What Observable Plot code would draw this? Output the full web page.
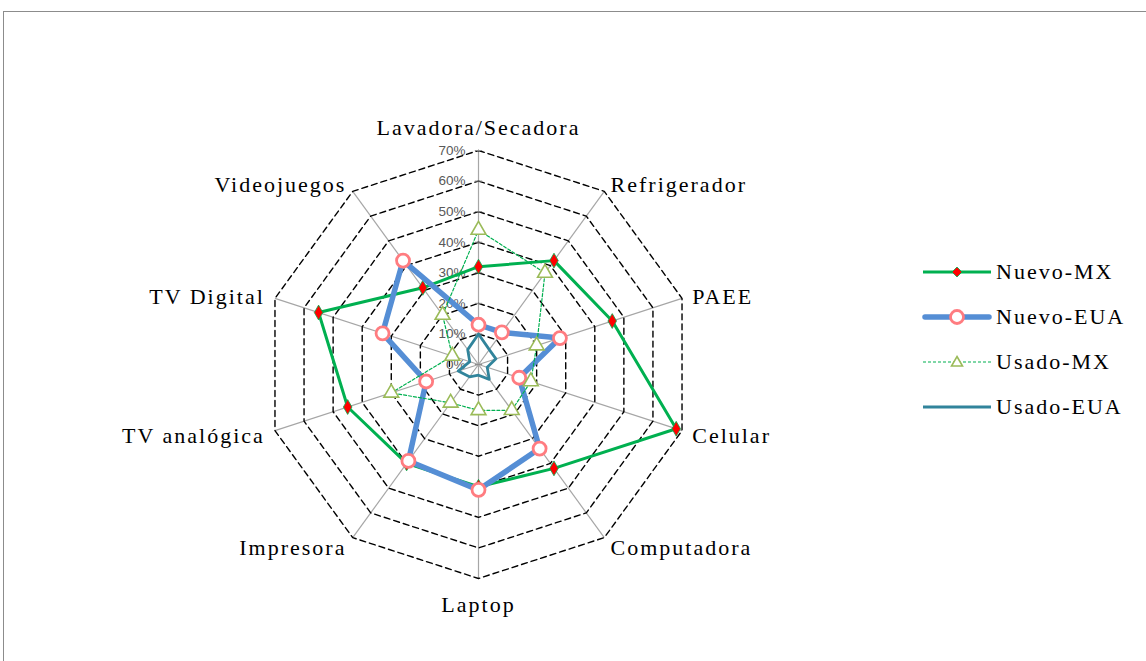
<!DOCTYPE html>
<html>
<head>
<meta charset="utf-8">
<script src="https://cdn.jsdelivr.net/npm/d3@7"></script>
<script src="https://cdn.jsdelivr.net/npm/@observablehq/plot@0.6"></script>
<style>
  html, body { margin: 0; padding: 0; background: #fff; overflow: hidden; }
  #wrap { position: relative; width: 1146px; height: 661px; }
  #frame { position: absolute; left: 3px; top: 11px; width: 1300px; height: 800px; border: 1.5px solid #8c8c8c; box-sizing: border-box; }
  #legend { position: absolute; left: 922px; top: 249px; font-family: "Liberation Serif", serif; font-size: 22px; letter-spacing: 2px; color: #000; }
  .item { display: flex; align-items: center; height: 45px; }
  .item svg { margin-right: 4px; }
</style>
</head>
<body>
<div id="wrap">
  <div id="frame"></div>
  <div id="chart"></div>
  <div id="legend"></div>
</div>
<script>
const categories = ["Lavadora/Secadora","Refrigerador","PAEE","Celular","Computadora","Laptop","Impresora","TV analógica","TV Digital","Videojuegos"];
const nuevoMX  = [32, 42, 46, 68, 42, 40, 40, 45, 55, 31];
const nuevoEUA = [13, 13, 28, 14, 34, 41, 39, 18, 33, 42];
const usadoMX  = [44, 37, 20, 18, 18.5, 15, 15.5, 30, 9, 20];
const usadoEUA = [10, 6, 6, 3, 6, 3.5, 5, 7, 3, 6];
const tickLevels = [0, 10, 20, 30, 40, 50, 60, 70];
const seriesNames = ["Nuevo-MX","Nuevo-EUA","Usado-MX","Usado-EUA"];

const maxV = 70;
const n = categories.length;
const ang = i => (2 * Math.PI * i) / n;
const px = (v, i) => (v / 100) * Math.sin(ang(i));
const py = (v, i) => (v / 100) * Math.cos(ang(i));

const toPts = (vals, name) => vals.map((v, i) => ({name, cat: categories[i], i, v, x: px(v, i), y: py(v, i)}));
const sNMX = toPts(nuevoMX, "Nuevo-MX");
const sNEUA = toPts(nuevoEUA, "Nuevo-EUA");
const sUMX = toPts(usadoMX, "Usado-MX");
const sUEUA = toPts(usadoEUA, "Usado-EUA");

const rings = tickLevels.filter(l => l > 0).flatMap(l => categories.map((c, i) => ({level: l, x: px(l, i), y: py(l, i)})));
const spokes = categories.map((c, i) => ({cat: c, x: px(maxV, i), y: py(maxV, i)}));
const labelR = maxV + 3.5;
const labels = categories.map((c, i) => ({cat: c, i, x: px(labelR, i), y: py(labelR, i)}));
const tickHalf = 0.012;

const W = 1146, H = 661;
const cx = 478, cy = 364, R = 214;

const serif = "Liberation Serif";
const chart = Plot.plot({
  width: W, height: H,
  marginLeft: cx - R, marginRight: W - (cx + R),
  marginTop: cy - R, marginBottom: H - (cy + R),
  x: {domain: [-maxV/100, maxV/100], axis: null},
  y: {domain: [-maxV/100, maxV/100], axis: null},
  style: {overflow: "visible", background: "transparent"},
  marks: [
    Plot.link(spokes, {x1: 0, y1: 0, x2: "x", y2: "y", stroke: "#a6a6a6", strokeWidth: 1.2}),
    Plot.line(rings, {x: "x", y: "y", z: "level", curve: "linear-closed", stroke: "#000", strokeWidth: 1.4, strokeDasharray: "6,4"}),
    Plot.link(tickLevels, {x1: -tickHalf, x2: tickHalf, y1: d => d / 100, y2: d => d / 100, stroke: "#8c8c8c", strokeWidth: 1}),
    Plot.text(tickLevels, {x: 0, y: d => d / 100, text: d => d + "%", textAnchor: "end", dx: -13, fill: "#595959", fontSize: 13.5, fontFamily: "Liberation Sans"}),
    // Nuevo-MX
    Plot.line(sNMX, {x: "x", y: "y", curve: "linear-closed", stroke: "#00b050", strokeWidth: 3}),
    Plot.dot(sNMX, {x: "x", y: "y", symbol: "diamond", r: 4.5, fill: "#ff0000", stroke: "#00b050", strokeWidth: 0.8}),
    // Nuevo-EUA
    Plot.line(sNEUA, {x: "x", y: "y", curve: "linear-closed", stroke: "#558ed5", strokeWidth: 5.5}),
    Plot.dot(sNEUA, {x: "x", y: "y", symbol: "circle", r: 6.5, fill: "#fff", stroke: "#ff7c80", strokeWidth: 2.8}),
    // Usado-MX
    Plot.line(sUMX, {x: "x", y: "y", curve: "linear-closed", stroke: "#00b050", strokeWidth: 1.2, strokeDasharray: "3,2"}),
    Plot.dot(sUMX, {x: "x", y: "y", symbol: "triangle", r: 5.5, fill: "#fff", stroke: "#9bbb59", strokeWidth: 1.6}),
    // Usado-EUA
    Plot.line(sUEUA, {x: "x", y: "y", curve: "linear-closed", stroke: "#31849b", strokeWidth: 2.8}),
    // category labels
    Plot.text(labels.filter(d => d.i === 0), {x: "x", y: "y", text: "cat", textAnchor: "middle", lineAnchor: "bottom", dy: -5, fontFamily: serif, fontSize: 22, fill: "#000"}),
    Plot.text(labels.filter(d => d.i === n / 2), {x: "x", y: "y", text: "cat", textAnchor: "middle", lineAnchor: "top", dy: 7, fontFamily: serif, fontSize: 22, fill: "#000"}),
    Plot.text(labels.filter(d => d.i > 0 && d.i < n / 2), {x: "x", y: "y", text: "cat", textAnchor: "start", lineAnchor: "middle", dy: 2, fontFamily: serif, fontSize: 22, fill: "#000"}),
    Plot.text(labels.filter(d => d.i > n / 2), {x: "x", y: "y", text: "cat", textAnchor: "end", lineAnchor: "middle", dy: 2, fontFamily: serif, fontSize: 22, fill: "#000"})
  ]
});
d3.select(chart).selectAll('g[font-family="Liberation Serif"] text').style("letter-spacing", "2px");
document.getElementById("chart").appendChild(chart);

// Legend
const swatches = {
  "Nuevo-MX": `<line x1="1" x2="69" y1="10" y2="10" stroke="#00b050" stroke-width="3"/><path d="M35,5 L40,10 L35,15 L30,10 Z" fill="#ff0000" stroke="#00b050" stroke-width="0.8"/>`,
  "Nuevo-EUA": `<line x1="3" x2="67" y1="10" y2="10" stroke="#558ed5" stroke-width="5.5" stroke-linecap="round"/><circle cx="35" cy="10" r="6.5" fill="#fff" stroke="#ff7c80" stroke-width="2.8"/>`,
  "Usado-MX": `<line x1="1" x2="69" y1="10" y2="10" stroke="#00b050" stroke-width="1.2" stroke-dasharray="3,2"/><path d="M35,4.5 L40.5,14 L29.5,14 Z" fill="#fff" stroke="#9bbb59" stroke-width="1.6"/>`,
  "Usado-EUA": `<line x1="1" x2="69" y1="10" y2="10" stroke="#31849b" stroke-width="2.8"/>`
};
const leg = d3.select("#legend");
seriesNames.forEach(name => {
  const row = leg.append("div").attr("class", "item");
  row.append("svg").attr("width", 70).attr("height", 20).html(swatches[name]);
  row.append("span").text(name);
});
</script>
</body>
</html>
